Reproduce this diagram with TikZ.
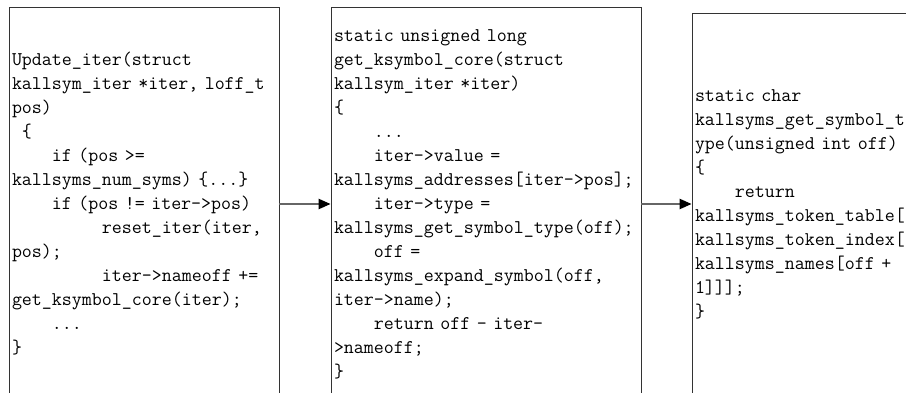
\documentclass[tikz,border=0pt]{standalone}
\usetikzlibrary{arrows.meta}

% indent by n columns of the mono font
\newcommand{\ind}[1]{\hspace*{#1\fontcharwd\font`x}}

\begin{document}
\begin{tikzpicture}[
    codebox/.style={rectangle, draw=black!80, line width=0.7pt, inner xsep=0.075cm, inner ysep=0pt,
        font=\fontsize{13.8}{17.07}\selectfont\ttfamily\frenchspacing, align=left},
    flow/.style={draw=black!60, line width=1pt, -{Triangle[length=0.3cm, width=0.26cm, color=black]}}
]
    \useasboundingbox (0,0) rectangle (22.65,9.8);

    % update_iter
    \node[codebox, text width=6.6cm, minimum height=9.85cm] (update) at (3.6, 4.7) {
        Update\_iter(struct\\
        kallsym\_iter *iter, loff\_t\\
        pos)\\
        \ind{1}\{\\
        \ind{4}if (pos >=\\
        kallsyms\_num\_syms) \{...\}\\
        \ind{4}if (pos != iter->pos)\\
        \ind{9}reset\_iter(iter,\\
        pos);\\
        \ind{9}iter->nameoff +=\\
        get\_ksymbol\_core(iter);\\
        \ind{4}...\\
        \}
    };

    % get_ksymbol_core
    \node[codebox, text width=7.6cm, minimum height=9.85cm] (core) at (12.15, 4.7) {
        static unsigned long\\
        get\_ksymbol\_core(struct\\
        kallsym\_iter *iter)\\
        \{\\
        \ind{4}...\\
        \ind{4}iter->value =\\
        kallsyms\_addresses[iter->pos];\\
        \ind{4}iter->type =\\
        kallsyms\_get\_symbol\_type(off);\\
        \ind{4}off =\\
        kallsyms\_expand\_symbol(off,\\
        iter->name);\\
        \ind{4}return off - iter-\\
        >nameoff;\\
        \}
    };

    % kallsyms_get_symbol_type
    \node[codebox, text width=5.3cm, minimum height=9.55cm] (symtype) at (20.025, 4.7) {
        static char\\
        kallsyms\_get\_symbol\_t\\
        ype(unsigned int off)\\
        \{\\
        \ind{4}return\\
        kallsyms\_token\_table[\\
        kallsyms\_token\_index[\\
        kallsyms\_names[off +\\
        1]]];\\
        \}
    };

    \draw[flow] (update) -- (core);
    \draw[flow] (core) -- (symtype);
\end{tikzpicture}
\end{document}
